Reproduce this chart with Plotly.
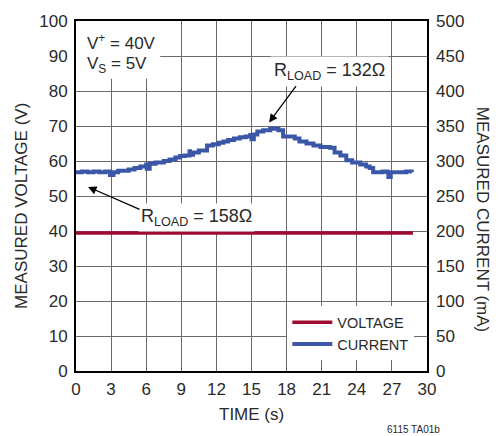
import plotly.graph_objects as go

# ---- data ----
time_current = [0, 0.5, 1.0, 1.5, 2.0, 2.5, 2.9, 3.2, 3.6, 4.0, 4.5, 5.0, 5.5, 6.0, 6.05, 6.3, 6.8,
                7.5, 8.0, 8.5, 8.9, 9.3, 9.7, 9.75, 10.0, 10.5, 11.2, 11.7, 12.2, 12.6, 13.0, 13.5,
                14.0, 14.5, 14.9, 15.0, 15.2, 15.5, 16.0, 16.6, 17.0, 17.3, 17.7, 18.3, 18.7, 19.1,
                19.7, 20.3, 20.9, 21.3, 21.7, 22.1, 22.6, 23.1, 23.6, 24.3, 24.8, 25.1, 25.4, 25.8,
                26.2, 26.6, 26.7, 26.9, 27.3, 27.7, 28.2, 28.7]
current_ma = [284, 285, 284, 285, 284, 285, 280, 284, 286, 286, 288, 290, 292, 295, 289, 296, 298,
              300, 302, 305, 307, 308, 314, 309, 312, 315, 322, 324, 326, 328, 330, 332,
              334, 335, 337, 331, 338, 342, 344, 346, 346, 344, 335, 335, 332, 328,
              325, 322, 320, 320, 319, 312, 308, 301, 298, 295, 292, 290, 284, 284,
              285, 284, 277, 284, 284, 284, 285, 284]
time_voltage = [0, 28.8]
voltage_v = [39.4, 39.4]

x_ticks = [0, 3, 6, 9, 12, 15, 18, 21, 24, 27, 30]
v_ticks = [0, 10, 20, 30, 40, 50, 60, 70, 80, 90, 100]
i_ticks = [0, 50, 100, 150, 200, 250, 300, 350, 400, 450, 500]

FONT = "Liberation Sans, Arial, sans-serif"
RED = "#9E0B2F"
BLUE = "#3A57A7"
GRID = "#6a6a6a"
TXT = "#2a2a2a"

fig = go.Figure()
fig.add_trace(go.Scatter(x=time_voltage, y=voltage_v, mode="lines", name="VOLTAGE",
                         line=dict(color=RED, width=3.5)))
fig.add_trace(go.Scatter(x=time_current, y=current_ma, mode="lines", name="CURRENT",
                         line=dict(color=BLUE, width=4, shape="hv"), yaxis="y2"))

fig.update_layout(
    width=501, height=436,
    margin=dict(l=76, r=74, t=19, b=65),
    paper_bgcolor="white", plot_bgcolor="white",
    font=dict(family=FONT, size=17, color=TXT),
    xaxis=dict(range=[0, 30], tickvals=x_ticks, showgrid=True, gridcolor=GRID, gridwidth=1.2,
               showline=True, linecolor="black", linewidth=2, mirror=True,
               ticks="", zeroline=False, tickfont=dict(size=17), ticklabelstandoff=2),
    yaxis=dict(range=[0, 100], tickvals=v_ticks, showgrid=True, gridcolor=GRID, gridwidth=1.2,
               showline=True, linecolor="black", linewidth=2, mirror=True,
               ticks="", zeroline=False, tickfont=dict(size=17), ticklabelstandoff=3),
    yaxis2=dict(range=[0, 500], tickvals=i_ticks, overlaying="y", side="right",
                showgrid=False, zeroline=False, ticks="", tickfont=dict(size=17),
                ticklabelstandoff=8),
    showlegend=True,
    legend=dict(x=0.602, y=0.185, xanchor="left", yanchor="top", bgcolor="white",
                borderwidth=0, font=dict(size=14.5), itemwidth=40, tracegroupgap=0),
)

# white box hiding grid behind the supply text
fig.add_shape(type="rect", xref="x", yref="y", x0=0, x1=7.2, y0=83.5, y1=100,
              fillcolor="white", line=dict(width=0), layer="between")

anns = [
    dict(x=0.75, y=94.0, xref="x", yref="y", text="V<sup>+</sup> = 40V", xanchor="left",
         showarrow=False, font=dict(size=17)),
    dict(x=0.75, y=87.5, xref="x", yref="y", text="V<sub>S</sub> = 5V", xanchor="left",
         showarrow=False, font=dict(size=17)),
    dict(x=21.7, y=85.5, xref="x", yref="y", text="R<sub>LOAD</sub> = 132Ω", showarrow=False,
         bgcolor="white", borderpad=3, font=dict(size=18)),
    dict(x=16.5, y=71.0, xref="x", yref="y", ax=18.9, ay=81.8, axref="x", ayref="y", text="",
         showarrow=True, arrowhead=2, arrowsize=1.3, arrowwidth=1.3, arrowcolor="black"),
    dict(x=10.3, y=44.0, xref="x", yref="y", text="R<sub>LOAD</sub> = 158Ω", showarrow=False,
         bgcolor="white", borderpad=2, font=dict(size=18)),
    dict(x=1.03, y=52.6, xref="x", yref="y", ax=5.56, ay=46.0, axref="x", ayref="y", text="",
         showarrow=True, arrowhead=2, arrowsize=1.3, arrowwidth=1.3, arrowcolor="black"),
    dict(x=22, y=205, text="MEASURED VOLTAGE (V)", showarrow=False,
         textangle=-90, font=dict(size=17)),
    dict(x=482, y=218, text="MEASURED CURRENT (mA)", showarrow=False, textangle=90,
         font=dict(size=17)),
    dict(x=251, y=415, text="TIME (s)", showarrow=False, font=dict(size=17)),
    dict(x=413, y=430, text="6115 TA01b", showarrow=False, font=dict(size=10)),
]
# convert pixel positions for the paper-based texts
W, H = 501, 436
L, R, T, B = 76, 74, 19, 65
pw, ph = W - L - R, H - T - B
final = []
for a in anns:
    if a.get("xref") == "x":
        final.append(a)
        continue
    px, py = a["x"], a["y"]
    a = dict(a)
    a["xref"] = "paper"
    a["yref"] = "paper"
    a["x"] = (px - L) / pw
    a["y"] = (H - B - py) / ph
    a["xanchor"] = "center"
    a["yanchor"] = "middle"
    final.append(a)
fig.update_layout(annotations=final)

fig.write_html("out.html")
